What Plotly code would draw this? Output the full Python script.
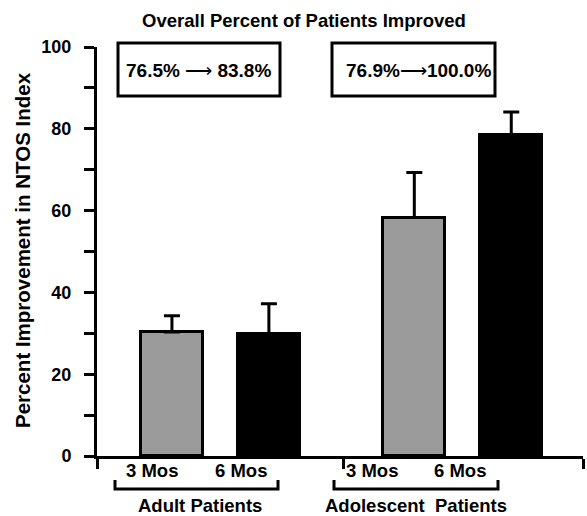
import plotly.graph_objects as go

groups = ["Adult Patients", "Adolescent  Patients"]
timepoints = ["3 Mos", "6 Mos"]
means = [[30.3, 29.8], [58.3, 78.5]]
errors = [[4.0, 7.4], [11.0, 5.6]]
before_pct = ["76.5%", "76.9%"]
after_pct = ["83.8%", "100.0%"]
colors = ["#9b9b9b", "#000000"]
y_ticks = [0, 20, 40, 60, 80, 100]

W, H = 587, 516
L, R, T, B = 97, 583, 47, 456
XR = [0.227, 5.24]

def px(p):
    return (p - L) / (R - L)

def py(p):
    return (B - p) / (B - T)

fig = go.Figure()
for gi, g in enumerate(groups):
    for ti, t in enumerate(timepoints):
        xpos = 1 + gi * 2.5 + ti
        fig.add_trace(go.Bar(
            x=[xpos], y=[means[gi][ti]], width=0.64,
            marker=dict(color=colors[ti], line=dict(color="black", width=3)),
            error_y=dict(type="data", symmetric=False, array=[errors[gi][ti]],
                         arrayminus=[0], color="black", thickness=3, width=8),
            showlegend=False, hoverinfo="y", cliponaxis=False))

font_b = "Liberation Sans, Arial, sans-serif"

def ann(x, y, text, size, bold=True, **kw):
    fig.add_annotation(xref="paper", yref="paper", x=px(x), y=py(y),
                       xanchor="center", yanchor="middle",
                       text=("<b>%s</b>" % text) if bold else text, showarrow=False,
                       font=dict(size=size, color="black", family=font_b), **kw)

# box annotations
box_px = [(118, 280), (332, 495)]
for (x0, x1) in box_px:
    fig.add_shape(type="rect", xref="paper", yref="paper",
                  x0=px(x0), x1=px(x1), y0=py(96), y1=py(43),
                  line=dict(color="black", width=3), fillcolor="white")
ann(198, 70, "<b>%s</b> \u27f6 <b>%s</b>" % (before_pct[0], after_pct[0]), 19, bold=False)
ann(418, 70, "<b>%s</b>\u27f6<b>%s</b>" % (before_pct[1], after_pct[1]), 19, bold=False)

# time labels
label_px = [152, 241, 372, 460]
for i, lp in enumerate(label_px):
    ann(lp, 470, timepoints[i % 2], 18.5)

# brackets and group labels
brackets = [(115, 278), (334, 498)]
group_px = [200, 416]
for (x0, x1), g, gx in zip(brackets, groups, group_px):
    fig.add_shape(type="path", xref="paper", yref="paper",
                  path="M %f %f L %f %f L %f %f L %f %f" % (
                      px(x0), py(480), px(x0), py(489), px(x1), py(489), px(x1), py(480)),
                  line=dict(color="black", width=3))
    ann(gx, 505, g.replace("  ", "&nbsp;&nbsp;"), 18.5)

# y-axis title
ann(22, 250, "Percent Improvement in NTOS Index", 20.5, textangle=-90)

fig.update_layout(
    width=W, height=H,
    margin=dict(l=L, r=W - R, t=T, b=H - B),
    plot_bgcolor="white", paper_bgcolor="white",
    title=dict(text="<b>Overall Percent of Patients Improved</b>", x=px(304), xref="paper",
               xanchor="center", y=1 - 21 / H, yanchor="middle",
               font=dict(size=18.5, color="black", family=font_b)),
    xaxis=dict(range=XR, showgrid=False, zeroline=False, showline=True, linecolor="black",
               linewidth=3, ticks="outside", ticklen=10, tickwidth=3, tickcolor="black",
               tickvals=[XR[0], 2.765, XR[1]], ticktext=["", "", ""]),
    yaxis=dict(range=[0, 100], showgrid=False, zeroline=False, showline=True,
               linecolor="black", linewidth=3, ticks="outside", ticklen=10, tickwidth=3,
               tickcolor="black", tickvals=y_ticks, ticklabelstandoff=9,
               tickfont=dict(size=18, color="black", family=font_b, weight="bold"),
               minor=dict(dtick=10, ticks="outside", ticklen=10, tickwidth=3,
                          tickcolor="black", showgrid=False)),
    bargap=0,
)

fig.write_html("out.html")
